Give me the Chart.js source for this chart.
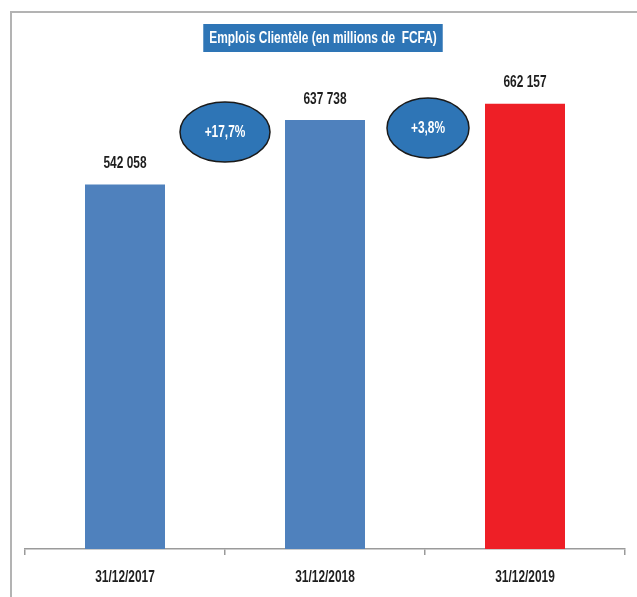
<!DOCTYPE html>
<html>
<head>
<meta charset="utf-8">
<script src="https://cdn.jsdelivr.net/npm/chart.js@4"></script>
<style>
  html, body { margin: 0; padding: 0; background: #ffffff; }
  #wrap { width: 637px; height: 597px; position: relative; }
</style>
</head>
<body>
<div id="wrap"><canvas id="c" width="637" height="597"></canvas></div>
<script>
// Emplois clientèle, en millions de FCFA
const categories = ['31/12/2017', '31/12/2018', '31/12/2019'];
const values = [542058, 637738, 662157];
const valueLabels = ['542 058', '637 738', '662 157'];
// Variations d'une année sur l'autre
const growthLabels = ['+17,7%', '+3,8%'];
const growthAnchors = [620000, 626000];

const chartTitle = 'Emplois Clientèle (en millions de  FCFA)';
const FONT = '"Liberation Sans", Arial, sans-serif';
const NARROW = 0.7; // condensed look

const barColors = ['#4F81BD', '#4F81BD', '#EE1F26'];

// condensed bold text, centred on (x, y)
function narrowText(ctx, text, x, y, color) {
  ctx.save();
  ctx.font = 'bold 17px ' + FONT;
  ctx.fillStyle = color;
  ctx.textAlign = 'center';
  ctx.textBaseline = 'middle';
  ctx.translate(x, y);
  ctx.scale(NARROW, 1);
  ctx.fillText(text, 0, 0);
  ctx.restore();
}

const decorPlugin = {
  id: 'decor',
  beforeDraw(chart) {
    const ctx = chart.ctx;
    ctx.save();
    ctx.fillStyle = '#ffffff';
    ctx.fillRect(0, 0, chart.width, chart.height);
    // cadre
    ctx.strokeStyle = '#b3b3b3';
    ctx.lineWidth = 2;
    ctx.beginPath();
    ctx.moveTo(11, chart.height);
    ctx.lineTo(11, 12);
    ctx.lineTo(chart.width, 12);
    ctx.stroke();
    ctx.restore();
  },
  afterDraw(chart) {
    const ctx = chart.ctx;
    const x = chart.scales.x, y = chart.scales.y;
    const meta = chart.getDatasetMeta(0);

    // titre
    const cx = (x.left + x.right) / 2 - 2;
    ctx.save();
    ctx.font = 'bold 17px ' + FONT;
    const tw = ctx.measureText(chartTitle).width * NARROW;
    ctx.restore();
    const bw = Math.max(tw + 12, 232);
    ctx.fillStyle = '#2E75B6';
    ctx.fillRect(cx - bw / 2, 24, bw, 28);
    narrowText(ctx, chartTitle, cx, 38.5, '#ffffff');

    // valeurs au-dessus des barres
    meta.data.forEach((bar, i) => {
      narrowText(ctx, valueLabels[i], bar.x, bar.y - 21, '#1e1e1e');
    });

    // libellés de l'axe des abscisses
    categories.forEach((c, i) => {
      narrowText(ctx, c, x.getPixelForValue(i), 577, '#1e1e1e');
    });

    // ellipses de variation
    growthLabels.forEach((lbl, i) => {
      const ex = x.getPixelForValue(i + 0.5) + (i === 0 ? 0 : 3);
      const ey = y.getPixelForValue(growthAnchors[i]);
      const rx = i === 0 ? 45 : 41;
      ctx.save();
      ctx.beginPath();
      ctx.ellipse(ex, ey, rx, 30, 0, 0, Math.PI * 2);
      ctx.fillStyle = '#2E75B6';
      ctx.fill();
      ctx.lineWidth = 1.5;
      ctx.strokeStyle = '#1a1a1a';
      ctx.stroke();
      ctx.restore();
      narrowText(ctx, lbl, ex, ey, '#ffffff');
    });
  }
};

new Chart(document.getElementById('c'), {
  type: 'bar',
  data: {
    labels: categories,
    datasets: [{
      data: values,
      backgroundColor: barColors,
      borderWidth: 0,
      barPercentage: 0.8,
      categoryPercentage: 0.5
    }]
  },
  options: {
    responsive: false,
    animation: false,
    events: [],
    layout: { padding: { left: 25, right: 12, top: 11, bottom: 20 } },
    plugins: { legend: { display: false }, tooltip: { enabled: false } },
    scales: {
      x: {
        grid: {
          offset: true,
          drawOnChartArea: false,
          drawTicks: true,
          tickLength: 6,
          color: '#9a9a9a',
          lineWidth: 1.5
        },
        border: { display: true, color: '#9a9a9a', width: 1.5 },
        ticks: {
          // labels are drawn condensed by the plugin
          color: 'rgba(0,0,0,0)',
          padding: 2,
          font: { family: FONT, size: 15, weight: 'bold' }
        }
      },
      y: {
        display: false,
        min: 0,
        max: 800000
      }
    }
  },
  plugins: [decorPlugin]
});
</script>
</body>
</html>
